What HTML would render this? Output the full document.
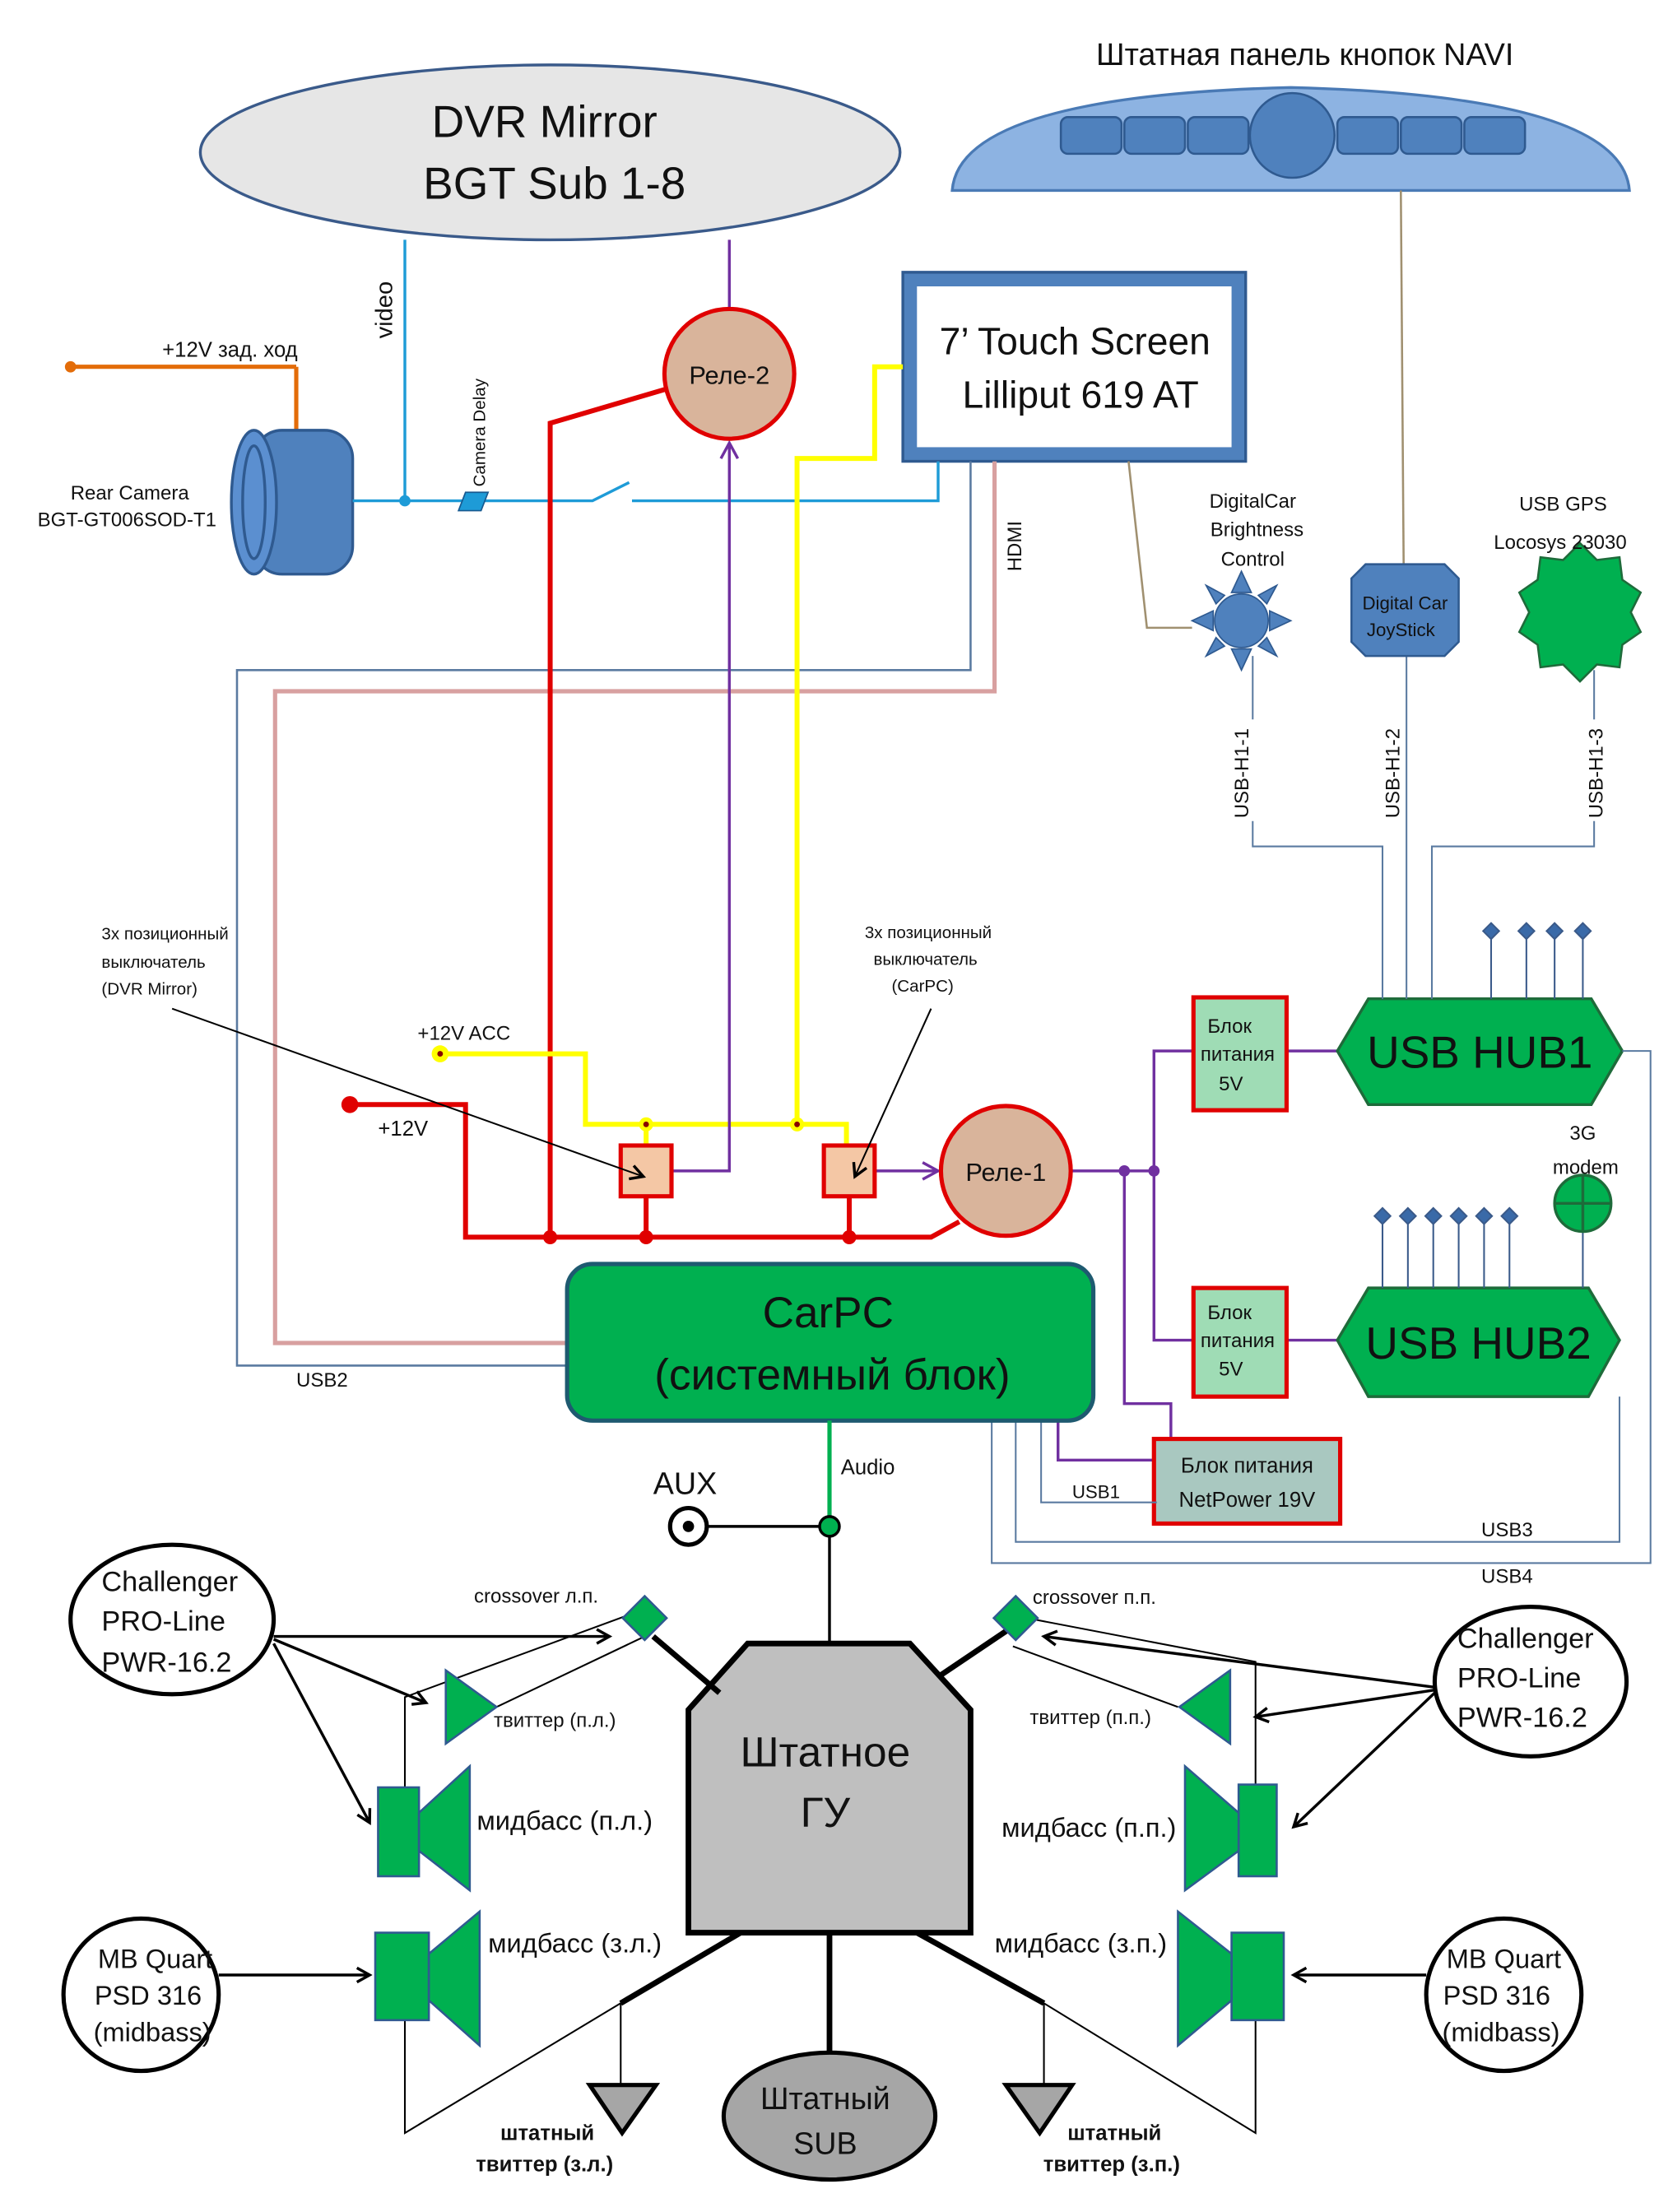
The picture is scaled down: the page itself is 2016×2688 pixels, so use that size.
<!DOCTYPE html>
<html><head><meta charset="utf-8"><style>
html,body{margin:0;padding:0;background:#fff}
svg{display:block}
text{font-family:"Liberation Sans","DejaVu Sans",sans-serif;fill:#111}
</style></head><body>
<svg width="2016" height="2688" viewBox="0 0 1176 1568" xmlns="http://www.w3.org/2000/svg">
<defs>
<marker id="ab" markerWidth="12" markerHeight="12" refX="10" refY="6" orient="auto" markerUnits="userSpaceOnUse"><path d="M1,1 L10,6 L1,11" fill="none" stroke="#000" stroke-width="2"/></marker>
<marker id="ap" markerWidth="14" markerHeight="14" refX="12" refY="7" orient="auto" markerUnits="userSpaceOnUse"><path d="M1,1 L12,7 L1,13" fill="none" stroke="#7030a0" stroke-width="2"/></marker>
</defs>

<ellipse cx="390" cy="108" rx="248" ry="62" fill="#e6e6e6" stroke="#3a5a8a" stroke-width="2"/>
<text x="386" y="97" font-size="32" text-anchor="middle">DVR Mirror</text>
<text x="393" y="141" font-size="32" text-anchor="middle">BGT Sub 1-8</text>

<text x="925" y="46" font-size="22" text-anchor="middle">Штатная панель кнопок NAVI</text>
<path d="M675,135 Q680,68 915,62 Q1150,68 1155,135 Z" fill="#8db3e2" stroke="#4a7ab5" stroke-width="2"/>
<g fill="#4f81bd" stroke="#2f5a90" stroke-width="1.5">
<rect x="752" y="83" width="43" height="26" rx="5"/><rect x="797" y="83" width="43" height="26" rx="5"/><rect x="842" y="83" width="43" height="26" rx="5"/>
<rect x="948" y="83" width="43" height="26" rx="5"/><rect x="993" y="83" width="43" height="26" rx="5"/><rect x="1038" y="83" width="43" height="26" rx="5"/>
<circle cx="916" cy="96" r="30"/>
</g>
<line x1="993" y1="135" x2="995" y2="402" stroke="#a09070" stroke-width="1.5"/>

<rect x="640" y="193" width="243" height="134" fill="#4f81bd" stroke="#2f5a90" stroke-width="2"/>
<rect x="650" y="203" width="223" height="114" fill="#fff"/>
<text x="762" y="251" font-size="27" text-anchor="middle">7’ Touch Screen</text>
<text x="766" y="289" font-size="27" text-anchor="middle">Lilliput 619 AT</text>

<line x1="50" y1="260" x2="210" y2="260" stroke="#e36c09" stroke-width="3"/>
<line x1="210" y1="260" x2="210" y2="307" stroke="#e36c09" stroke-width="3"/>
<circle cx="50" cy="260" r="4" fill="#e36c09"/>
<text x="115" y="253" font-size="15">+12V зад. ход</text>
<rect x="180" y="305" width="70" height="102" rx="20" fill="#4f81bd" stroke="#2f5a90" stroke-width="2"/>
<ellipse cx="180" cy="356" rx="16" ry="51" fill="#5b8fd0" stroke="#2f5a90" stroke-width="2"/>
<ellipse cx="180" cy="356" rx="8" ry="40" fill="none" stroke="#2f5a90" stroke-width="2"/>
<text x="92" y="354" font-size="14" text-anchor="middle">Rear Camera</text>
<text x="90" y="373" font-size="14" text-anchor="middle">BGT-GT006SOD-T1</text>

<g stroke="#1e9bd7" stroke-width="2" fill="none">
<polyline points="250,355 420,355 446,342"/>
<polyline points="448,355 665,355 665,327"/>
<line x1="287" y1="170" x2="287" y2="355"/>
</g>
<circle cx="287" cy="355" r="4" fill="#1e9bd7"/>
<polygon points="325,362 330,349 346,349 341,362" fill="#1e9bd7" stroke="#175a90"/>
<text transform="translate(278,240) rotate(-90)" font-size="17">video</text>
<text transform="translate(344,345) rotate(-90)" font-size="12">Camera Delay</text>

<polyline points="705,327 705,490 195,490 195,952 402,952" fill="none" stroke="#d8a0a0" stroke-width="3"/>
<polyline points="688,327 688,475 168,475 168,968 402,968" fill="none" stroke="#5a7aa0" stroke-width="1.5"/>
<text transform="translate(724,405) rotate(-90)" font-size="14">HDMI</text>
<text x="210" y="983" font-size="14">USB2</text>

<g stroke="#e00000" stroke-width="3.5" fill="none">
<polyline points="475,275 390,300 390,877"/>
<polyline points="250,783 330,783 330,877 660,877 680,866"/>
<line x1="458" y1="848" x2="458" y2="877"/>
<line x1="602" y1="848" x2="602" y2="877"/>
</g>
<circle cx="248" cy="783" r="6" fill="#e00000"/>
<circle cx="390" cy="877" r="5" fill="#e00000"/><circle cx="458" cy="877" r="5" fill="#e00000"/><circle cx="602" cy="877" r="5" fill="#e00000"/>
<text x="268" y="805" font-size="15">+12V</text>

<g stroke="#ffff00" stroke-width="3.5" fill="none">
<polyline points="312,747 415,747 415,797 600,797 600,812"/>
<line x1="458" y1="797" x2="458" y2="812"/>
<polyline points="565,797 565,325 620,325 620,260 640,260"/>
</g>
<circle cx="312" cy="747" r="6" fill="#ffff00"/><circle cx="312" cy="747" r="2" fill="#800"/>
<circle cx="458" cy="797" r="5" fill="#ffff00"/><circle cx="458" cy="797" r="2" fill="#800"/>
<circle cx="565" cy="797" r="5" fill="#ffff00"/><circle cx="565" cy="797" r="2" fill="#800"/>
<text x="296" y="737" font-size="14">+12V ACC</text>

<g stroke="#7030a0" stroke-width="2" fill="none">
<line x1="517" y1="170" x2="517" y2="219"/>
<polyline points="476,830 517,830 517,314" marker-end="url(#ap)"/>
<line x1="620" y1="830" x2="665" y2="830" marker-end="url(#ap)"/>
<line x1="759" y1="830" x2="818" y2="830"/>
<polyline points="845,745 818,745 818,950 845,950"/>
<polyline points="797,830 797,995 830,995 830,1020"/>
<polyline points="750,1007 750,1035 820,1035"/>
<line x1="912" y1="745" x2="950" y2="745"/>
<line x1="912" y1="950" x2="948" y2="950"/>
</g>
<circle cx="797" cy="830" r="4" fill="#7030a0"/><circle cx="818" cy="830" r="4" fill="#7030a0"/>

<circle cx="517" cy="265" r="46" fill="#d9b49b" stroke="#e00000" stroke-width="3"/>
<text x="517" y="272" font-size="18" text-anchor="middle">Реле-2</text>
<circle cx="713" cy="830" r="46" fill="#d9b49b" stroke="#e00000" stroke-width="3"/>
<text x="713" y="837" font-size="18" text-anchor="middle">Реле-1</text>
<rect x="440" y="812" width="36" height="36" fill="#f4c7a5" stroke="#e00000" stroke-width="3"/>
<rect x="584" y="812" width="36" height="36" fill="#f4c7a5" stroke="#e00000" stroke-width="3"/>

<g font-size="12">
<text x="72" y="666">3х позиционный</text><text x="72" y="686">выключатель</text><text x="72" y="705">(DVR Mirror)</text>
</g>
<g font-size="12" text-anchor="middle">
<text x="658" y="665">3х позиционный</text><text x="656" y="684">выключатель</text><text x="654" y="703">(CarPC)</text>
</g>
<line x1="122" y1="715" x2="456" y2="834" stroke="#000" stroke-width="1.2" marker-end="url(#ab)"/>
<line x1="660" y1="715" x2="606" y2="834" stroke="#000" stroke-width="1.2" marker-end="url(#ab)"/>

<rect x="846" y="707" width="66" height="80" fill="#9fdcb5" stroke="#e00000" stroke-width="3"/>
<text x="856" y="732" font-size="14">Блок</text><text x="851" y="752" font-size="14">питания</text><text x="864" y="773" font-size="14">5V</text>
<rect x="846" y="913" width="66" height="77" fill="#9fdcb5" stroke="#e00000" stroke-width="3"/>
<text x="856" y="935" font-size="14">Блок</text><text x="851" y="955" font-size="14">питания</text><text x="864" y="975" font-size="14">5V</text>
<rect x="818" y="1020" width="132" height="60" fill="#a9c8c0" stroke="#e00000" stroke-width="3"/>
<text x="884" y="1044" font-size="15" text-anchor="middle">Блок питания</text>
<text x="884" y="1068" font-size="15" text-anchor="middle">NetPower 19V</text>

<polygon points="970,708 1128,708 1150,745 1128,783 970,783 948,745" fill="#00b050" stroke="#1e6b3a" stroke-width="2"/>
<text x="1049" y="757" font-size="32" text-anchor="middle">USB HUB1</text>
<polygon points="970,913 1126,913 1148,950 1126,990 970,990 948,950" fill="#00b050" stroke="#1e6b3a" stroke-width="2"/>
<text x="1048" y="963" font-size="32" text-anchor="middle">USB HUB2</text>
<g stroke="#3a5a8a" stroke-width="1.2" fill="#3a6aa8">
<line x1="1057" y1="660" x2="1057" y2="708"/><line x1="1082" y1="660" x2="1082" y2="708"/><line x1="1102" y1="660" x2="1102" y2="708"/><line x1="1122" y1="660" x2="1122" y2="708"/>
<rect x="1053" y="656" width="8" height="8" transform="rotate(45 1057 660)"/><rect x="1078" y="656" width="8" height="8" transform="rotate(45 1082 660)"/><rect x="1098" y="656" width="8" height="8" transform="rotate(45 1102 660)"/><rect x="1118" y="656" width="8" height="8" transform="rotate(45 1122 660)"/>
<line x1="980" y1="862" x2="980" y2="913"/><line x1="998" y1="862" x2="998" y2="913"/><line x1="1016" y1="862" x2="1016" y2="913"/><line x1="1034" y1="862" x2="1034" y2="913"/><line x1="1052" y1="862" x2="1052" y2="913"/><line x1="1070" y1="862" x2="1070" y2="913"/>
<rect x="976" y="858" width="8" height="8" transform="rotate(45 980 862)"/><rect x="994" y="858" width="8" height="8" transform="rotate(45 998 862)"/><rect x="1012" y="858" width="8" height="8" transform="rotate(45 1016 862)"/><rect x="1030" y="858" width="8" height="8" transform="rotate(45 1034 862)"/><rect x="1048" y="858" width="8" height="8" transform="rotate(45 1052 862)"/><rect x="1066" y="858" width="8" height="8" transform="rotate(45 1070 862)"/>
<line x1="1122" y1="873" x2="1122" y2="913"/>
</g>
<circle cx="1122" cy="853" r="20" fill="#00b050" stroke="#1e6b3a" stroke-width="2"/>
<line x1="1102" y1="853" x2="1142" y2="853" stroke="#1e6b3a" stroke-width="2"/><line x1="1122" y1="833" x2="1122" y2="873" stroke="#1e6b3a" stroke-width="2"/>
<text x="1122" y="808" font-size="14" text-anchor="middle">3G</text>
<text x="1124" y="832" font-size="14" text-anchor="middle">modem</text>

<g stroke="#5a7aa0" stroke-width="1.2" fill="none">
<polyline points="738,1007 738,1065 820,1065"/>
<polyline points="720,1007 720,1093 1148,1093 1148,990"/>
<polyline points="703,1007 703,1108 1170,1108 1170,745 1150,745"/>
<polyline points="888,582 888,600 980,600 980,708"/>
<line x1="997" y1="465" x2="997" y2="708"/>
<polyline points="1130,582 1130,600 1015,600 1015,708"/>
<line x1="888" y1="465" x2="888" y2="510"/>
<line x1="1130" y1="475" x2="1130" y2="510"/>
</g>
<text x="760" y="1062" font-size="13">USB1</text>
<text x="1050" y="1089" font-size="14">USB3</text>
<text x="1050" y="1122" font-size="14">USB4</text>
<text transform="translate(885,580) rotate(-90)" font-size="14">USB-H1-1</text>
<text transform="translate(992,580) rotate(-90)" font-size="14">USB-H1-2</text>
<text transform="translate(1136,580) rotate(-90)" font-size="14">USB-H1-3</text>

<polyline points="800,327 813,445 845,445" fill="none" stroke="#a09070" stroke-width="1.5"/>
<g fill="#4f81bd" stroke="#2f5a90" stroke-width="1">
<polygon points="880,405 873,420 887,420"/><polygon points="880,475 873,460 887,460"/>
<polygon points="845,440 860,433 860,447"/><polygon points="915,440 900,433 900,447"/>
<polygon points="855,415 868,422 862,428"/><polygon points="905,415 892,422 898,428"/>
<polygon points="855,465 868,458 862,452"/><polygon points="905,465 892,458 898,452"/>
<circle cx="880" cy="440" r="19"/>
</g>
<text x="888" y="360" font-size="14" text-anchor="middle">DigitalCar</text>
<text x="891" y="380" font-size="14" text-anchor="middle">Brightness</text>
<text x="888" y="401" font-size="14" text-anchor="middle">Control</text>
<polygon points="968,400 1024,400 1034,410 1034,455 1024,465 968,465 958,455 958,410" fill="#4f81bd" stroke="#2f5a90" stroke-width="1.5"/>
<text x="996" y="432" font-size="13" text-anchor="middle">Digital Car</text>
<text x="993" y="451" font-size="13" text-anchor="middle">JoyStick</text>
<polygon points="1120,385 1132,397 1148,395 1150,411 1163,420 1156,434 1163,448 1150,457 1148,473 1132,471 1120,483 1108,471 1092,473 1090,457 1077,448 1084,434 1077,420 1090,411 1092,395 1108,397" fill="#00b050" stroke="#1e6b3a" stroke-width="1.5"/>
<text x="1108" y="362" font-size="14" text-anchor="middle">USB GPS</text>
<text x="1106" y="389" font-size="14" text-anchor="middle">Locosys 23030</text>

<rect x="402" y="896" width="373" height="111" rx="18" fill="#00b050" stroke="#1e5a70" stroke-width="3"/>
<text x="587" y="941" font-size="31" text-anchor="middle">CarPC</text>
<text x="590" y="985" font-size="31" text-anchor="middle">(системный блок)</text>

<line x1="588" y1="1007" x2="588" y2="1082" stroke="#00b050" stroke-width="3"/>
<line x1="488" y1="1082" x2="588" y2="1082" stroke="#000" stroke-width="2"/>
<line x1="588" y1="1082" x2="588" y2="1165" stroke="#000" stroke-width="2"/>
<circle cx="588" cy="1082" r="7" fill="#00b050" stroke="#000" stroke-width="2"/>
<circle cx="488" cy="1082" r="13" fill="#fff" stroke="#000" stroke-width="3"/>
<circle cx="488" cy="1082" r="4" fill="#000"/>
<text x="596" y="1045" font-size="15">Audio</text>
<text x="463" y="1059" font-size="22">AUX</text>

<polygon points="530,1165 645,1165 688,1212 688,1370 488,1370 488,1212" fill="#bfbfbf" stroke="#000" stroke-width="4"/>
<text x="585" y="1252" font-size="30" text-anchor="middle">Штатное</text>
<text x="585" y="1295" font-size="30" text-anchor="middle">ГУ</text>

<g stroke="#000" stroke-width="4" fill="none">
<line x1="510" y1="1200" x2="463" y2="1160"/>
<line x1="666" y1="1188" x2="715" y2="1155"/>
<polyline points="525,1370 440,1420"/>
<polyline points="650,1370 740,1420"/>
<line x1="588" y1="1370" x2="588" y2="1455"/>
</g>
<g stroke="#000" stroke-width="1.2" fill="none">
<polyline points="445,1145 287,1203 287,1267"/>
<line x1="457" y1="1160" x2="352" y2="1210"/>
<polyline points="440,1420 287,1512 287,1432"/>
<line x1="440" y1="1420" x2="440" y2="1478"/>
<polyline points="728,1147 890,1178 890,1268"/>
<line x1="718" y1="1167" x2="835" y2="1210"/>
<polyline points="740,1420 890,1512 890,1432"/>
<line x1="740" y1="1420" x2="740" y2="1478"/>
</g>
<rect x="446" y="1136" width="22" height="22" fill="#00b050" stroke="#2f5a90" stroke-width="1.5" transform="rotate(45 457 1147)"/>
<rect x="709" y="1136" width="22" height="22" fill="#00b050" stroke="#2f5a90" stroke-width="1.5" transform="rotate(45 720 1147)"/>
<text x="336" y="1136" font-size="14">crossover л.п.</text>
<text x="732" y="1137" font-size="14">crossover п.п.</text>

<polygon points="316,1184 316,1236 352,1210" fill="#00b050" stroke="#2f5a90" stroke-width="1.5"/>
<polygon points="872,1184 872,1236 836,1210" fill="#00b050" stroke="#2f5a90" stroke-width="1.5"/>
<text x="350" y="1224" font-size="14">твиттер (п.л.)</text>
<text x="730" y="1222" font-size="14">твиттер (п.п.)</text>
<g fill="#00b050" stroke="#2f5a90" stroke-width="1.5">
<rect x="268" y="1267" width="29" height="63"/><polygon points="297,1285 333,1252 333,1340 297,1312"/>
<rect x="266" y="1370" width="38" height="62"/><polygon points="304,1385 340,1355 340,1450 304,1418"/>
<rect x="878" y="1265" width="27" height="65"/><polygon points="878,1285 840,1252 840,1340 878,1312"/>
<rect x="873" y="1370" width="37" height="62"/><polygon points="873,1385 835,1355 835,1450 873,1418"/>
</g>
<text x="338" y="1297" font-size="19">мидбасс (п.л.)</text>
<text x="346" y="1384" font-size="19">мидбасс (з.л.)</text>
<text x="710" y="1302" font-size="19">мидбасс (п.п.)</text>
<text x="705" y="1384" font-size="19">мидбасс (з.п.)</text>
<polygon points="418,1478 465,1478 441,1512" fill="#a6a6a6" stroke="#000" stroke-width="3"/>
<polygon points="713,1478 760,1478 737,1512" fill="#a6a6a6" stroke="#000" stroke-width="3"/>
<text x="388" y="1517" font-size="15" font-weight="bold" text-anchor="middle">штатный</text>
<text x="386" y="1539" font-size="15" font-weight="bold" text-anchor="middle">твиттер (з.л.)</text>
<text x="790" y="1517" font-size="15" font-weight="bold" text-anchor="middle">штатный</text>
<text x="788" y="1539" font-size="15" font-weight="bold" text-anchor="middle">твиттер (з.п.)</text>
<ellipse cx="588" cy="1500" rx="75" ry="45" fill="#a6a6a6" stroke="#000" stroke-width="3"/>
<text x="585" y="1495" font-size="22" text-anchor="middle" fill="#333">Штатный</text>
<text x="585" y="1527" font-size="22" text-anchor="middle" fill="#333">SUB</text>

<ellipse cx="122" cy="1148" rx="72" ry="53" fill="#fff" stroke="#000" stroke-width="3"/>
<text x="72" y="1128" font-size="20">Challenger</text><text x="72" y="1156" font-size="20">PRO-Line</text><text x="72" y="1185" font-size="20">PWR-16.2</text>
<ellipse cx="1085" cy="1192" rx="68" ry="53" fill="#fff" stroke="#000" stroke-width="3"/>
<text x="1033" y="1168" font-size="20">Challenger</text><text x="1033" y="1196" font-size="20">PRO-Line</text><text x="1033" y="1224" font-size="20">PWR-16.2</text>
<ellipse cx="100" cy="1414" rx="55" ry="54" fill="#fff" stroke="#000" stroke-width="3"/>
<text x="110" y="1395" font-size="19" text-anchor="middle">MB Quart</text><text x="105" y="1421" font-size="19" text-anchor="middle">PSD 316</text><text x="108" y="1447" font-size="19" text-anchor="middle">(midbass)</text>
<ellipse cx="1066" cy="1414" rx="55" ry="54" fill="#fff" stroke="#000" stroke-width="3"/>
<text x="1066" y="1395" font-size="19" text-anchor="middle">MB Quart</text><text x="1061" y="1421" font-size="19" text-anchor="middle">PSD 316</text><text x="1064" y="1447" font-size="19" text-anchor="middle">(midbass)</text>

<g stroke="#000" stroke-width="2" fill="none">
<line x1="194" y1="1160" x2="432" y2="1160" marker-end="url(#ab)"/>
<line x1="194" y1="1162" x2="302" y2="1207" marker-end="url(#ab)"/>
<line x1="194" y1="1165" x2="262" y2="1292" marker-end="url(#ab)"/>
<line x1="155" y1="1400" x2="262" y2="1400" marker-end="url(#ab)"/>
<line x1="1017" y1="1196" x2="740" y2="1160" marker-end="url(#ab)"/>
<line x1="1017" y1="1198" x2="890" y2="1217" marker-end="url(#ab)"/>
<line x1="1017" y1="1200" x2="917" y2="1295" marker-end="url(#ab)"/>
<line x1="1011" y1="1400" x2="917" y2="1400" marker-end="url(#ab)"/>
</g>
</svg>
</body></html>
